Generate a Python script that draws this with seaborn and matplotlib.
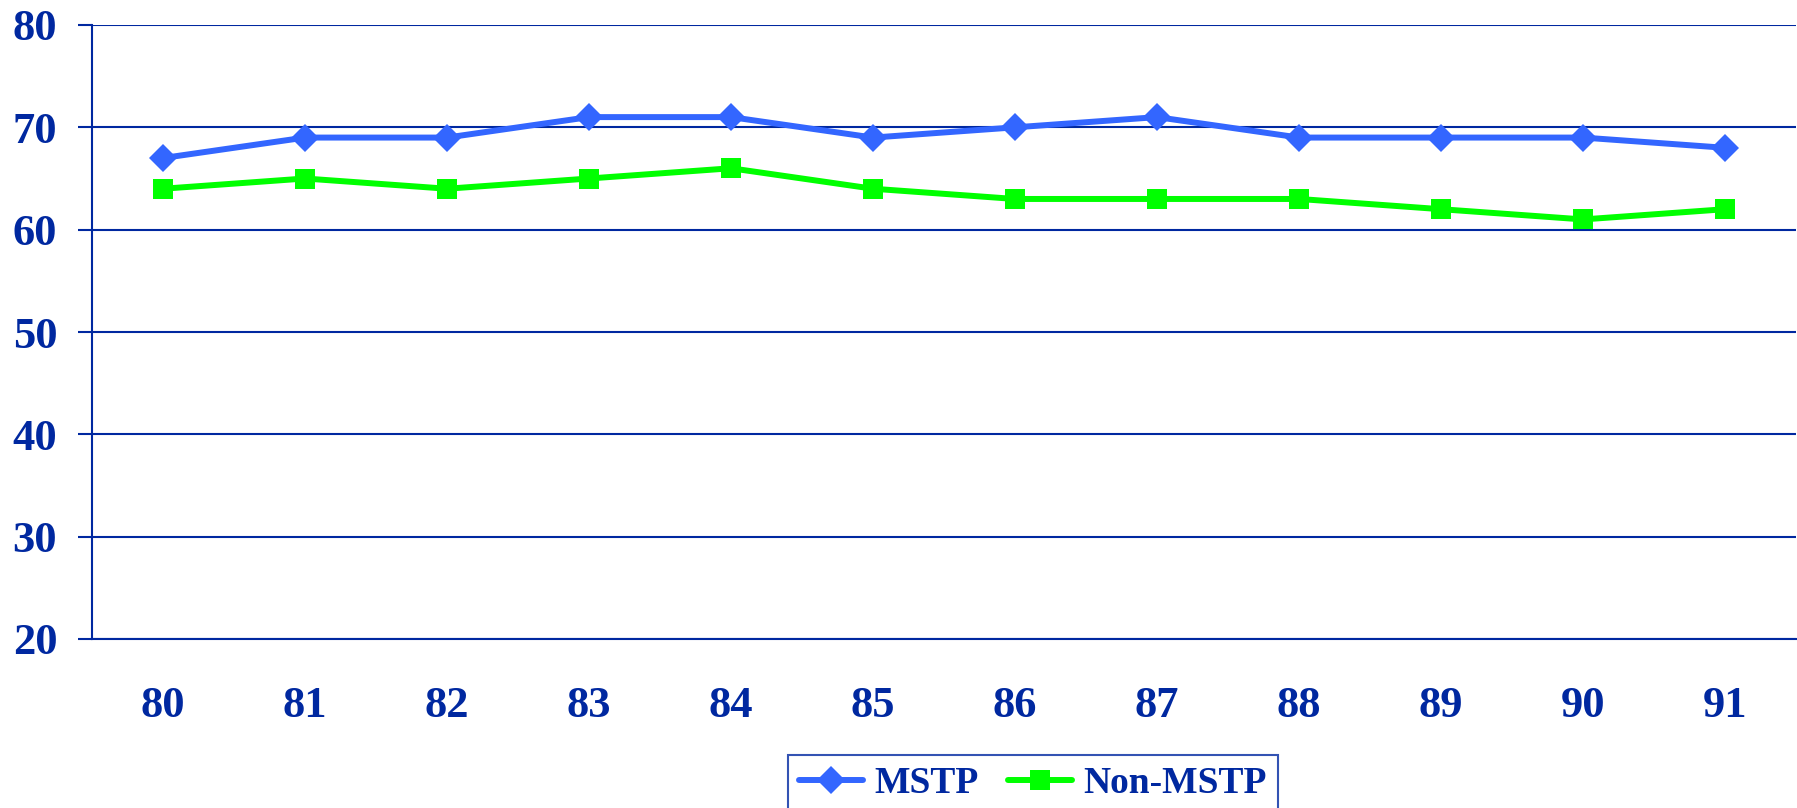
import matplotlib
matplotlib.use('Agg')
import matplotlib.pyplot as plt
import numpy as np
import pandas as pd
import seaborn as sns

# values
years = ['80', '81', '82', '83', '84', '85', '86', '87', '88', '89', '90', '91']
mstp = [67, 69, 69, 71, 71, 69, 70, 71, 69, 69, 69, 68]
non_mstp = [64, 65, 64, 65, 66, 64, 63, 63, 63, 62, 61, 62]
y_ticks = [20, 30, 40, 50, 60, 70, 80]

navy = '#0028a0'
blue = '#3366ff'
green = '#00ff00'

sns.set_style('white')
plt.rcParams['font.family'] = ['Liberation Serif', 'DejaVu Serif']
plt.rcParams['font.weight'] = 'bold'

df = pd.DataFrame({
    'year': years * 2,
    'value': mstp + non_mstp,
    'series': ['MSTP'] * len(years) + ['Non-MSTP'] * len(years),
})
df['pos'] = df['year'].map({y: i for i, y in enumerate(years)})

fig = plt.figure(figsize=(17.97, 8.08), dpi=100)
ax = fig.add_axes([92 / 1797, 1 - 639 / 808, 1704 / 1797, (639 - 25) / 808])

sns.lineplot(data=df, x='pos', y='value', hue='series', style='series',
             palette={'MSTP': blue, 'Non-MSTP': green},
             markers={'MSTP': 'D', 'Non-MSTP': 's'}, dashes=False,
             markersize=14, linewidth=4.3, markeredgewidth=0, ax=ax)
# squares a touch bigger than the diamonds
for ln in ax.lines:
    if ln.get_marker() == 's':
        ln.set_markersize(15)

ax.set_xlim(-0.5, len(years) - 0.5)
ax.set_ylim(20, 80)
ax.set_yticks(y_ticks)
ax.set_yticklabels([str(v) for v in y_ticks])
ax.set_xticks(range(len(years)))
ax.set_xticklabels(years)
ax.set_xticks(np.arange(-0.5, len(years), 1), minor=True)
ax.tick_params(axis='x', which='major', length=0, pad=34, labelsize=32, labelcolor=navy)
ax.tick_params(axis='x', which='minor', length=10, width=1.5, color=navy, direction='out')
ax.tick_params(axis='y', length=10, width=1.5, color=navy, direction='out', pad=15,
               labelsize=32, labelcolor=navy, left=True)
for lab in ax.get_xticklabels() + ax.get_yticklabels():
    lab.set_fontweight('bold')

ax.grid(axis='y', color=navy, linewidth=1.5)
ax.set_axisbelow(True)
for side in ['top', 'right']:
    ax.spines[side].set_visible(False)
for side in ['left', 'bottom']:
    ax.spines[side].set_color(navy)
    ax.spines[side].set_linewidth(1.5)
ax.set_xlabel('')
ax.set_ylabel('')

ax.get_legend().remove()
handles, labels = ax.get_legend_handles_labels()
leg = fig.legend(handles, labels, loc='upper center', ncol=2,
                 bbox_to_anchor=(1033 / 1797, 1 - 755 / 808),
                 borderaxespad=0, frameon=True, fancybox=False, edgecolor=navy,
                 prop={'size': 27, 'weight': 'bold'}, handlelength=1.7,
                 columnspacing=0.8, handletextpad=0.3, borderpad=0.3)
leg.get_frame().set_linewidth(1.5)
for t in leg.get_texts():
    t.set_color(navy)

fig.savefig('out.png', dpi=100)
